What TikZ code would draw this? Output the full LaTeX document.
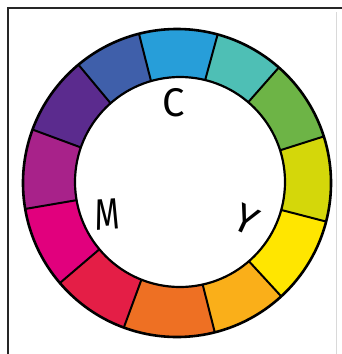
\documentclass[tikz,border=0pt]{standalone}
\usepackage{fontspec}
\newfontfamily\handfont{Fira Sans}
\definecolor{cCyan}{HTML}{279ED9}
\definecolor{cTeal}{HTML}{4EBFB5}
\definecolor{cGreen}{HTML}{6DB446}
\definecolor{cYG}{HTML}{D4D70A}
\definecolor{cYellow}{HTML}{FFE600}
\definecolor{cYO}{HTML}{FAAF19}
\definecolor{cOrange}{HTML}{EE7023}
\definecolor{cRed}{HTML}{E41E46}
\definecolor{cMagenta}{HTML}{E1007D}
\definecolor{cPurple}{HTML}{A8228A}
\definecolor{cViolet}{HTML}{5B2B8E}
\definecolor{cBlue}{HTML}{3F5FAA}
\tikzset{
  frameline/.style={line width=2pt, black!85},
  spoke/.style={line width=2pt, black},
  letter/.style={font=\handfont\fontsize{40}{40}\selectfont, inner sep=0pt}
}
\begin{document}
\begin{tikzpicture}[x=1pt,y=-1pt]
\useasboundingbox (0,0) rectangle (342,354);
\fill[white] (0,0) rectangle (342,354);
% frame
\draw[frameline] (7.5,354) -- (7.5,7.5) -- (342,7.5);
\draw[line width=0.6pt, black!15] (336,12) -- (336,354);
% wedges
\begin{scope}
\clip (177,183) circle (154);
\foreach \a/\b/\c in {74.7/104.3/cCyan, 48.6/74.7/cTeal, 17.6/48.6/cGreen,
  -14.5/17.6/cYG, -47.4/-14.5/cYellow, -75.8/-47.4/cYO, -110.2/-75.8/cOrange,
  -139.5/-110.2/cRed, -170.3/-139.5/cMagenta, -200.3/-170.3/cPurple,
  -230.2/-200.3/cViolet, -255.7/-230.2/cBlue}{
  \fill[\c] (177,183) -- ({177+400*cos(\a)},{183-400*sin(\a)})
    -- ({177+400*cos((\a+\b)/2)},{183-400*sin((\a+\b)/2)})
    -- ({177+400*cos(\b)},{183-400*sin(\b)}) -- cycle;
}
\foreach \a in {104.3,74.7,48.6,17.6,-14.5,-47.4,-75.8,-110.2,-139.5,-170.3,-200.3,-230.2}{
  \draw[spoke] ({177+90*cos(\a)},{183-90*sin(\a)}) -- ({177+160*cos(\a)},{183-160*sin(\a)});
}
\end{scope}
% inner disc
\node[circle, minimum size=210pt, inner sep=0pt, fill=white, draw=black, line width=2.2pt] (inner) at (180,182) {};
\node[circle, minimum size=308pt, inner sep=0pt, draw=black, line width=2.6pt] (outer) at (177,183) {};
% letters
\node[letter] (C) at (174,103) {C};
\node[letter, xscale=0.8, yscale=1.1, rotate=3] (M) at (107,214) {M};
\node[letter, rotate=-25] (Y) at (246,220) {Y};
\end{tikzpicture}
\end{document}
